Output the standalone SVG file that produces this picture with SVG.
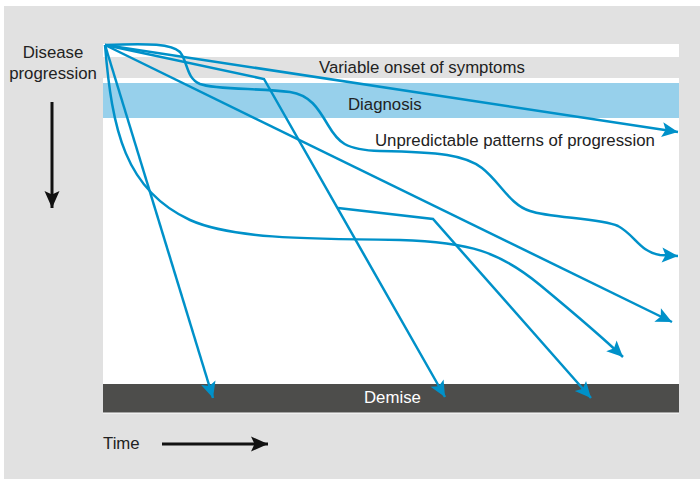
<svg xmlns="http://www.w3.org/2000/svg" width="700" height="479" viewBox="0 0 700 479">
  <style>
    text { font-family: "Liberation Sans", Arial, Helvetica, sans-serif; font-size: 16.8px; fill: #222; }
    .path { fill: none; stroke: #0091c9; stroke-width: 2.5; stroke-linejoin: miter; marker-end: url(#blueHead); }
    .axis { fill: none; stroke: #111; stroke-width: 3; marker-end: url(#blackHead); }
  </style>
  <defs>
    <marker id="blueHead" viewBox="-17 -8 18 16" refX="0" refY="0" markerWidth="18" markerHeight="16" markerUnits="userSpaceOnUse" orient="auto">
      <path d="M0,0 L-16,-7.5 L-12.5,0 L-16,7.5 Z" fill="#0091c9"/>
    </marker>
    <marker id="blackHead" viewBox="-18 -8 19 16" refX="0" refY="0" markerWidth="19" markerHeight="16" markerUnits="userSpaceOnUse" orient="auto">
      <path d="M0,0 L-17,-7.5 L-13.5,0 L-17,7.5 Z" fill="#111"/>
    </marker>
  </defs>

  <!-- page and plot background -->
  <rect x="0" y="0" width="700" height="479" fill="#ffffff"/>
  <rect x="4" y="6" width="696" height="473" fill="#e1e1e1"/>
  <rect x="103" y="44" width="576" height="369.5" fill="#ffffff"/>

  <g id="onset-band">
    <rect x="103" y="57" width="576" height="21" fill="#e1e1e1"/>
    <text x="319" y="73">Variable onset of symptoms</text>
  </g>

  <g id="diagnosis-band">
    <rect x="103" y="83" width="576" height="35" fill="#97d0eb"/>
    <text x="348" y="110">Diagnosis</text>
  </g>

  <g id="patterns-label">
    <text x="375" y="146">Unpredictable patterns of progression</text>
  </g>

  <g id="demise-band">
    <rect x="103" y="384" width="576" height="28.5" fill="#4d4d4b"/>
    <text x="364" y="403" style="fill:#ffffff">Demise</text>
  </g>

  <g id="progression-axis">
    <text x="53" y="58" text-anchor="middle">Disease</text>
    <text x="53" y="79" text-anchor="middle">progression</text>
    <path class="axis" d="M52,102 L52,208"/>
  </g>

  <g id="time-axis">
    <text x="103" y="449">Time</text>
    <path class="axis" d="M162,444 L268,444"/>
  </g>

  <!-- disease trajectories -->
  <g id="connectors">
    <path class="path" d="M105,45 L678,132"/>
    <path class="path" d="M105,45 C150,43 172,44 180,52 C188,62 186,78 200,84 C215,90 260,88 290,92 C310,95 318,108 328,125 C338,142 345,150 380,151 C440,152 465,155 482,168 C500,182 510,205 530,211 C550,218 600,218 618,226 C635,235 640,252 660,255 L678,256"/>
    <path class="path" d="M105,45 L264,79 L445,397"/>
    <path class="path" d="M338,208 L433,219 L591,398"/>
    <path class="path" d="M105,45 L672,322"/>
    <path class="path" d="M105,45 L213,398"/>
    <path class="path" d="M105,45 C112,130 125,190 190,220 C230,238 300,239 400,240 C470,242 500,252 540,285 C575,314 600,335 623,357"/>
  </g>
</svg>
